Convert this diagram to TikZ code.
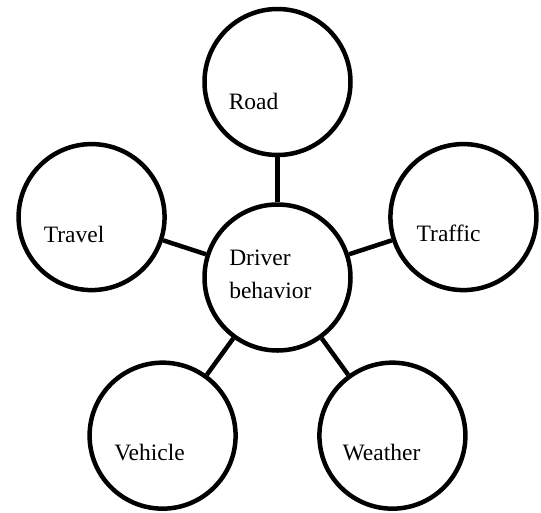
\documentclass[tikz,border=0pt]{standalone}
\usepackage{fontspec}
\setmainfont{Liberation Serif}

\begin{document}
\begin{tikzpicture}[x=1pt, y=1pt, line width=4.5pt,
    bubble/.style={circle, draw, minimum size=146pt, inner sep=0pt},
    tag/.style={anchor=base west, inner sep=0pt, align=left,
        font=\fontsize{23.5}{33}\selectfont}]
    \useasboundingbox (0,0) rectangle (541,-512);

    % Nodes {driver, road, traffic, weather, vehicle, travel}
    \node [bubble] (driver)  at (277.5,-277.5)                {};
    \node [bubble] (road)    at ([shift={(90:195.5)}]driver)  {};
    \node [bubble] (traffic) at ([shift={(18:195.5)}]driver)  {};
    \node [bubble] (weather) at ([shift={(-54:195.5)}]driver) {};
    \node [bubble] (vehicle) at ([shift={(-126:195.5)}]driver) {};
    \node [bubble] (travel)  at ([shift={(162:195.5)}]driver) {};

    % Labels
    \node [tag] (driver-t)  at ([shift={(-50.5,-20.5)}]driver) {Driver\\behavior};
    \node [tag] (road-t)    at ([shift={(-51,-27)}]road)      {Road};
    \node [tag] (traffic-t) at ([shift={(-49,-24)}]traffic)   {Traffic};
    \node [tag] (weather-t) at ([shift={(-52,-24.5)}]weather) {Weather};
    \node [tag] (vehicle-t) at ([shift={(-50.5,-24.5)}]vehicle) {Vehicle};
    \node [tag] (travel-t)  at ([shift={(-50,-25)}]travel)    {Travel};

    % Paths
    \path (driver) edge (road);
    \path (driver) edge (traffic);
    \path (driver) edge (weather);
    \path (driver) edge (vehicle);
    \path (driver) edge (travel);

\end{tikzpicture}
\end{document}
